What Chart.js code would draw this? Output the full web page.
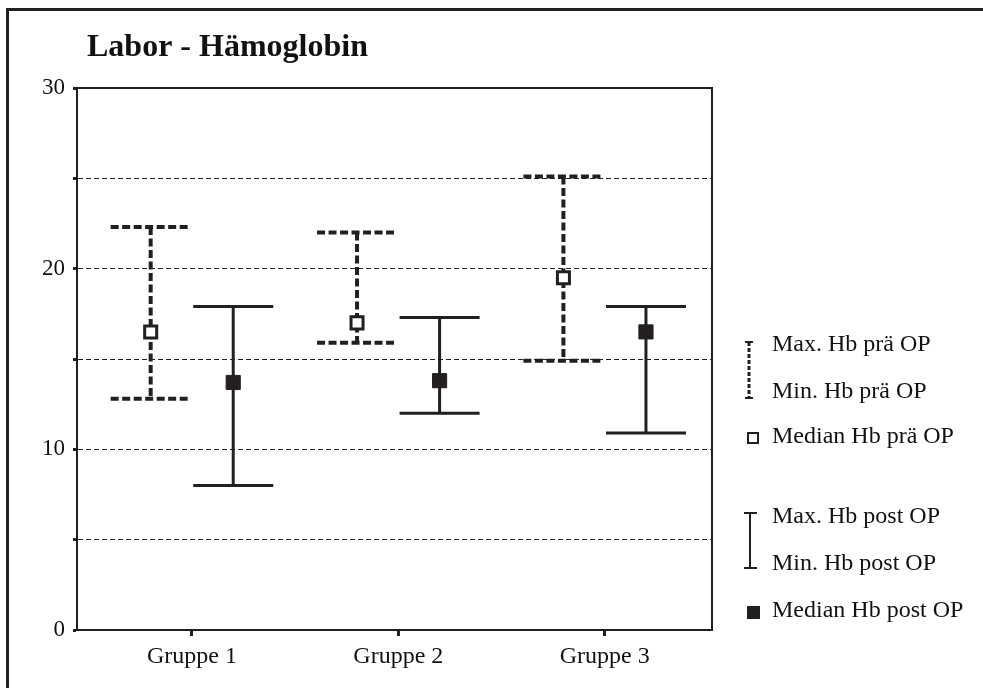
<!DOCTYPE html>
<html>
<head>
<meta charset="utf-8">
<title>Labor - Hämoglobin</title>
<script src="https://cdn.jsdelivr.net/npm/chart.js@4/dist/chart.umd.min.js"></script>
<style>
    html, body { margin: 0; padding: 0; background: #fff; overflow: hidden; }
    #wrap { position: relative; width: 983px; height: 688px; }
    #hbChart { position: absolute; left: 0; top: 0; }
    #frame {
        position: absolute; left: 6px; top: 8px; width: 1000px; height: 700px;
        border-top: 3px solid #231f20; border-left: 3px solid #231f20;
        pointer-events: none;
    }
</style>
</head>
<body>
<div id="wrap">
    <canvas id="hbChart" width="983" height="688"></canvas>
    <div id="frame"></div>
</div>
<script>
const groups = ["Gruppe 1", "Gruppe 2", "Gruppe 3"];

const preMax = [22.3, 22.0, 25.1];
const preMin = [12.8, 15.9, 14.9];
const preMedian = [16.5, 17.0, 19.5];

const postMax = [17.9, 17.3, 17.9];
const postMin = [8.0, 12.0, 10.9];
const postMedian = [13.7, 13.8, 16.5];

const yTicks = [0, 5, 10, 15, 20, 25, 30];

const legendPre = ["Max. Hb prä OP", "Min. Hb prä OP", "Median Hb prä OP"];
const legendPost = ["Max. Hb post OP", "Min. Hb post OP", "Median Hb post OP"];

const INK = "#231f20";
const SERIF = "'Liberation Serif', 'Times New Roman', serif";
const PRE_OFFSET = -0.2;
const POST_OFFSET = 0.2;
const CAP_HALF = 40;

function drawWhisker(ctx, x, yLow, yHigh, dashed) {
    ctx.save();
    ctx.strokeStyle = INK;
    ctx.lineCap = "butt";
    if (dashed) {
        ctx.lineWidth = 4;
        ctx.setLineDash([8, 3.5]);
    } else {
        ctx.lineWidth = 3;
        ctx.setLineDash([]);
    }
    ctx.beginPath();
    ctx.moveTo(x - CAP_HALF, yHigh);
    ctx.lineTo(x + CAP_HALF, yHigh);
    ctx.moveTo(x - CAP_HALF, yLow);
    ctx.lineTo(x + CAP_HALF, yLow);
    ctx.stroke();
    ctx.beginPath();
    ctx.moveTo(x, yHigh);
    ctx.lineTo(x, yLow);
    ctx.stroke();
    ctx.restore();
}

const whiskerPlugin = {
    id: "whiskers",
    beforeDatasetsDraw(chart) {
        const { ctx, chartArea, scales: { x, y } } = chart;

        // top and right sides of the plot frame
        ctx.save();
        ctx.strokeStyle = INK;
        ctx.lineWidth = 2;
        ctx.beginPath();
        ctx.moveTo(chartArea.left, chartArea.top);
        ctx.lineTo(chartArea.right, chartArea.top);
        ctx.lineTo(chartArea.right, chartArea.bottom);
        ctx.stroke();
        ctx.restore();

        groups.forEach((g, i) => {
            drawWhisker(ctx, x.getPixelForValue(i + 1 + PRE_OFFSET),
                y.getPixelForValue(preMin[i]), y.getPixelForValue(preMax[i]), true);
            drawWhisker(ctx, x.getPixelForValue(i + 1 + POST_OFFSET),
                y.getPixelForValue(postMin[i]), y.getPixelForValue(postMax[i]), false);
        });
    }
};

const titleLegendPlugin = {
    id: "titleLegend",
    afterDraw(chart) {
        const ctx = chart.ctx;
        ctx.save();
        ctx.fillStyle = "#111";
        ctx.font = `bold 32px ${SERIF}`;
        ctx.textBaseline = "alphabetic";
        ctx.fillText("Labor - Hämoglobin", 87, 56);

        ctx.font = `24px ${SERIF}`;
        ctx.textBaseline = "middle";
        const textX = 772;
        const preRows = [345, 392, 437];
        const postRows = [517, 564, 611];
        legendPre.forEach((t, i) => ctx.fillText(t, textX, preRows[i]));
        legendPost.forEach((t, i) => ctx.fillText(t, textX, postRows[i]));

        ctx.strokeStyle = INK;
        ctx.fillStyle = INK;

        // dashed min/max icon
        ctx.lineWidth = 3;
        ctx.setLineDash([4, 2]);
        ctx.beginPath();
        ctx.moveTo(749, 342);
        ctx.lineTo(749, 398);
        ctx.stroke();
        ctx.setLineDash([]);
        ctx.lineWidth = 2;
        ctx.beginPath();
        ctx.moveTo(745, 342);
        ctx.lineTo(753, 342);
        ctx.moveTo(745, 398);
        ctx.lineTo(753, 398);
        ctx.stroke();

        // open square
        ctx.lineWidth = 2;
        ctx.fillStyle = "#fff";
        ctx.fillRect(748, 433, 10, 10);
        ctx.strokeRect(748, 433, 10, 10);

        // solid min/max icon
        ctx.fillStyle = INK;
        ctx.lineWidth = 2;
        ctx.beginPath();
        ctx.moveTo(750, 513);
        ctx.lineTo(750, 568);
        ctx.moveTo(744, 513);
        ctx.lineTo(757, 513);
        ctx.moveTo(744, 568);
        ctx.lineTo(757, 568);
        ctx.stroke();

        // filled square
        ctx.fillRect(747, 606, 13, 13);
        ctx.restore();
    }
};

new Chart(document.getElementById("hbChart"), {
    type: "scatter",
    data: {
        datasets: [
            {
                label: legendPre[2],
                data: groups.map((g, i) => ({ x: i + 1 + PRE_OFFSET, y: preMedian[i] })),
                pointStyle: "rect",
                pointRadius: 8.5,
                backgroundColor: "#fff",
                borderColor: INK,
                borderWidth: 3
            },
            {
                label: legendPost[2],
                data: groups.map((g, i) => ({ x: i + 1 + POST_OFFSET, y: postMedian[i] })),
                pointStyle: "rect",
                pointRadius: 10,
                backgroundColor: INK,
                borderColor: INK,
                borderWidth: 1
            }
        ]
    },
    options: {
        responsive: false,
        devicePixelRatio: 1,
        animation: false,
        events: [],
        layout: {
            padding: { left: 0, top: 88, right: 271, bottom: 0 }
        },
        plugins: {
            legend: { display: false },
            tooltip: { enabled: false },
            title: { display: false }
        },
        scales: {
            x: {
                type: "linear",
                bounds: "data",
                min: 0.443,
                max: 3.52,
                afterBuildTicks: scale => {
                    scale.ticks = groups.map((g, i) => ({ value: i + 1 }));
                },
                afterFit: scale => {
                    scale.height = 58;
                },
                ticks: {
                    callback: value => groups[value - 1] || "",
                    font: { family: SERIF, size: 24 },
                    color: "#111",
                    padding: 6,
                    maxRotation: 0,
                    autoSkip: false
                },
                grid: {
                    drawOnChartArea: false,
                    drawTicks: true,
                    tickLength: 6,
                    tickWidth: 3,
                    tickColor: INK,
                    tickBorderDash: []
                },
                border: { color: INK, width: 2 }
            },
            y: {
                type: "linear",
                min: 0,
                max: 30,
                afterBuildTicks: scale => {
                    scale.ticks = yTicks.map(v => ({ value: v }));
                },
                afterFit: scale => {
                    scale.width = 77;
                },
                ticks: {
                    callback: value => (value % 10 === 0 ? value : ""),
                    font: { family: SERIF, size: 23 },
                    color: "#111",
                    padding: 8
                },
                grid: {
                    color: ctx => (ctx.tick && (ctx.tick.value === 0 || ctx.tick.value === 30)) ? "rgba(0,0,0,0)" : INK,
                    lineWidth: 1,
                    tickLength: 4,
                    tickWidth: 3,
                    tickColor: INK,
                    tickBorderDash: []
                },
                border: { color: INK, width: 2, dash: [5, 3] }
            }
        }
    },
    plugins: [whiskerPlugin, titleLegendPlugin]
});
</script>
</body>
</html>
